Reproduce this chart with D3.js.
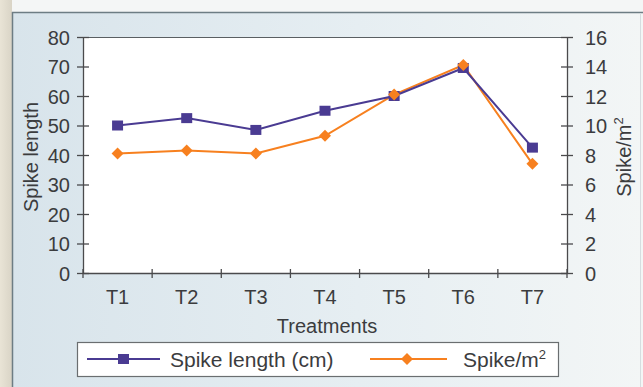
<!DOCTYPE html>
<html>
<head>
<meta charset="utf-8">
<script src="https://cdn.jsdelivr.net/npm/d3@7"></script>
<style>
  html, body { margin: 0; padding: 0; background: #e4dfd2; }
  svg { display: block; font-family: "Liberation Sans", Arial, Helvetica, sans-serif; }
</style>
</head>
<body>
<svg id="chart" width="643" height="387"></svg>
<script>
// Treatments on the x axis
const categories = ["T1", "T2", "T3", "T4", "T5", "T6", "T7"];
// Spike length (cm), left axis
const spikeLength = [50, 52.5, 48.5, 55, 60, 69.5, 42.5];
// Spikes per square metre, right axis
const spikePerM2 = [8.1, 8.3, 8.1, 9.3, 12.1, 14.1, 7.4];
// Axis tick values
const leftTicks = [0, 10, 20, 30, 40, 50, 60, 70, 80];
const rightTicks = [0, 2, 4, 6, 8, 10, 12, 14, 16];

const W = 643, H = 387;
const plot = { left: 83, right: 567, top: 37, bottom: 273 };
const textColor = "#3b3c3e";
const axisColor = "#4a4a4c";
const purple = "#4a3b92";
const orange = "#f7801f";

const svg = d3.select("#chart");
const defs = svg.append("defs");

const grad = defs.append("linearGradient").attr("id", "panelFill")
  .attr("x1", "0").attr("y1", "0").attr("x2", "1").attr("y2", "0");
grad.append("stop").attr("offset", "0").attr("stop-color", "#d8e4eb");
grad.append("stop").attr("offset", "0.55").attr("stop-color", "#e6eef2");
grad.append("stop").attr("offset", "1").attr("stop-color", "#f3f6f6");

const edge = defs.append("linearGradient").attr("id", "pageEdge")
  .attr("x1", "0").attr("y1", "0").attr("x2", "1").attr("y2", "0");
edge.append("stop").attr("offset", "0").attr("stop-color", "#e9e4d6");
edge.append("stop").attr("offset", "1").attr("stop-color", "#d9d4c6");

// page edge and chart panel
svg.append("rect").attr("x", 0).attr("y", 0).attr("width", 12).attr("height", H)
  .attr("fill", "url(#pageEdge)");
svg.append("rect").attr("x", 12).attr("y", 0).attr("width", W - 12).attr("height", 12)
  .attr("fill", "#f4f6f6");
svg.append("rect").attr("x", 12).attr("y", 12).attr("width", W - 12).attr("height", H - 12)
  .attr("fill", "url(#panelFill)");
svg.append("line").attr("x1", 12.5).attr("x2", 12.5).attr("y1", 12).attr("y2", H)
  .attr("stroke", "#6d7d84").attr("stroke-width", 1.5);
svg.append("line").attr("x1", 12).attr("x2", W).attr("y1", 12.5).attr("y2", 12.5)
  .attr("stroke", "#6d7d84").attr("stroke-width", 1.5);
svg.append("line").attr("x1", 640.5).attr("x2", 640.5).attr("y1", 13).attr("y2", H)
  .attr("stroke", "#d6dde0").attr("stroke-width", 1);

// plot area
svg.append("rect").attr("x", plot.left).attr("y", plot.top)
  .attr("width", plot.right - plot.left).attr("height", plot.bottom - plot.top)
  .attr("fill", "#ffffff");
svg.append("line").attr("x1", plot.left).attr("x2", plot.right)
  .attr("y1", plot.top + 0.5).attr("y2", plot.top + 0.5)
  .attr("stroke", "#5a5f62").attr("stroke-width", 1.2);

// scales
const x = d3.scaleBand().domain(categories).range([plot.left, plot.right]);
const yL = d3.scaleLinear().domain([0, 80]).range([plot.bottom, plot.top]);
const yR = d3.scaleLinear().domain([0, 16]).range([plot.bottom, plot.top]);

function styleAxis(g, tickOffset, anchor, fontSize) {
  g.select(".domain").attr("stroke", axisColor).attr("stroke-width", 1.3);
  g.selectAll(".tick line").attr("stroke", axisColor).attr("stroke-width", 1.3)
    .attr("x1", -6).attr("x2", 6);
  g.selectAll(".tick text").attr("fill", textColor).attr("font-size", fontSize)
    .attr("x", tickOffset).attr("text-anchor", anchor).attr("dy", "0.36em");
}

// left axis
svg.append("g").attr("transform", `translate(${plot.left},0)`)
  .call(d3.axisLeft(yL).tickValues(leftTicks).tickSizeOuter(0).tickPadding(0))
  .call(g => styleAxis(g, -13, "end", 20));

// right axis
svg.append("g").attr("transform", `translate(${plot.right},0)`)
  .call(d3.axisRight(yR).tickValues(rightTicks).tickSizeOuter(0).tickPadding(0))
  .call(g => styleAxis(g, 18, "start", 20));

// bottom axis: labels at band centres, tick marks at band edges
const xAxis = svg.append("g").attr("transform", `translate(0,${plot.bottom})`)
  .call(d3.axisBottom(x).tickSize(0).tickSizeOuter(0).tickPadding(0));
xAxis.select(".domain").attr("stroke", axisColor).attr("stroke-width", 1.3);
xAxis.selectAll(".tick text").attr("fill", textColor).attr("font-size", 20)
  .attr("y", 31).attr("dy", 0);
const edges = categories.map(c => x(c)).concat([x(categories[categories.length - 1]) + x.bandwidth()]);
xAxis.selectAll("line.edge").data(edges).join("line").attr("class", "edge")
  .attr("x1", d => d).attr("x2", d => d).attr("y1", -4).attr("y2", 5)
  .attr("stroke", axisColor).attr("stroke-width", 1.3);

// axis titles
svg.append("text").attr("transform", `translate(38,${(plot.top + plot.bottom) / 2 + 2}) rotate(-90)`)
  .attr("text-anchor", "middle").attr("font-size", 20).attr("fill", textColor)
  .text("Spike length");
const rTitle = svg.append("text")
  .attr("transform", `translate(631,${(plot.top + plot.bottom) / 2 + 2}) rotate(-90)`)
  .attr("text-anchor", "middle").attr("font-size", 20).attr("fill", textColor);
rTitle.append("tspan").text("Spike/m");
rTitle.append("tspan").attr("font-size", 13).attr("dy", -8).text("2");
svg.append("text").attr("x", (plot.left + plot.right) / 2 + 2).attr("y", 333)
  .attr("text-anchor", "middle").attr("font-size", 20).attr("fill", textColor)
  .text("Treatments");

// series
const cx = c => x(c) + x.bandwidth() / 2;
const lineL = d3.line().x((d, i) => cx(categories[i])).y(d => yL(d));
const lineR = d3.line().x((d, i) => cx(categories[i])).y(d => yR(d));

svg.append("path").datum(spikePerM2).attr("d", lineR)
  .attr("fill", "none").attr("stroke", orange).attr("stroke-width", 2);
svg.append("path").datum(spikeLength).attr("d", lineL)
  .attr("fill", "none").attr("stroke", purple).attr("stroke-width", 2);

const diamondPath = "M0,-6L6,0L0,6L-6,0Z";
function squareAt(g, px, py) {
  g.append("rect").attr("x", px - 5.5).attr("y", py - 5).attr("width", 11).attr("height", 10)
    .attr("fill", purple);
}
function diamondAt(g, px, py) {
  g.append("path").attr("d", diamondPath).attr("transform", `translate(${px},${py})`)
    .attr("fill", orange);
}

const markers = svg.append("g");
spikeLength.forEach((v, i) => squareAt(markers, cx(categories[i]), yL(v)));
spikePerM2.forEach((v, i) => diamondAt(markers, cx(categories[i]), yR(v)));

// legend
const legend = svg.append("g");
legend.append("rect").attr("x", 77.5).attr("y", 342.5).attr("width", 481).attr("height", 34)
  .attr("fill", "#ffffff").attr("stroke", "#6a6e70").attr("stroke-width", 1.2);
const legY = 359;
legend.append("line").attr("x1", 87).attr("x2", 160).attr("y1", legY).attr("y2", legY)
  .attr("stroke", purple).attr("stroke-width", 2);
squareAt(legend, 123.5, legY);
legend.append("text").attr("x", 170).attr("y", legY).attr("dy", "0.36em")
  .attr("font-size", 21).attr("fill", textColor).text("Spike length (cm)");
legend.append("line").attr("x1", 370).attr("x2", 447).attr("y1", legY).attr("y2", legY)
  .attr("stroke", orange).attr("stroke-width", 2);
diamondAt(legend, 407, legY);
const lt = legend.append("text").attr("x", 463).attr("y", legY).attr("dy", "0.36em")
  .attr("font-size", 21).attr("fill", textColor);
lt.append("tspan").text("Spike/m");
lt.append("tspan").attr("font-size", 13).attr("dy", -8).text("2");
</script>
</body>
</html>
